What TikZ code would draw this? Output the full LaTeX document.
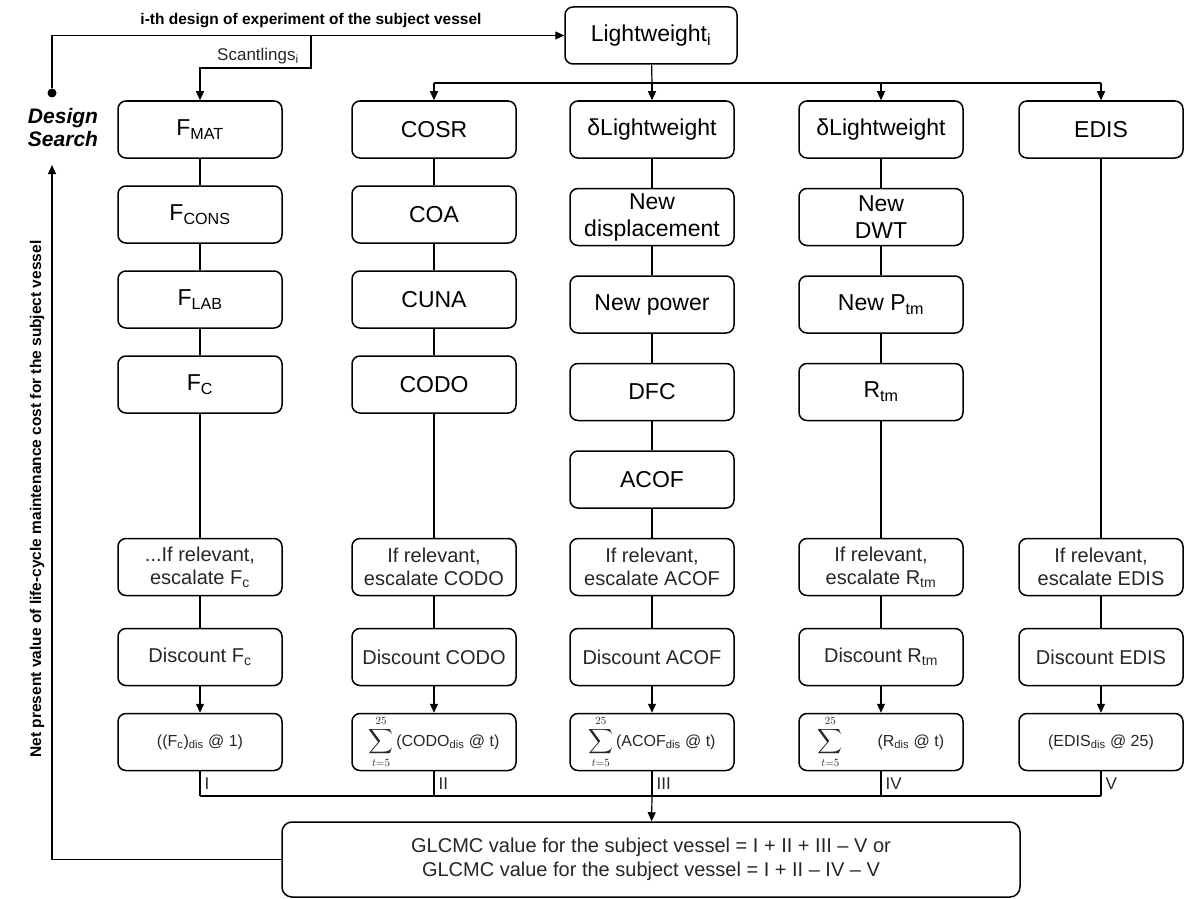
\documentclass[tikz,border=0pt]{standalone}
\usepackage{amsmath}
\usepackage{exscale}
\usepackage{fontspec}
\setmainfont{Liberation Sans}
\usepackage{tikz}
\usetikzlibrary{shapes,arrows.meta,positioning,calc}
\newcommand{\subtx}[1]{\textsubscript{#1}}
\newcommand{\sumlim}{$\displaystyle\sum_{t=5}^{25}$\,}

\begin{document}
\begin{tikzpicture}[x=1pt, y=-1pt,
        node distance=87.5pt,
        block/.style={rectangle, draw, line width=1.5pt, rounded corners=8pt, minimum width=164pt, minimum height=57pt, align=center, inner sep=2pt, font=\fontsize{23}{27}\selectfont},
        lowblock/.style={block, font=\fontsize{20}{23}\selectfont, text=black!85},
        sumblock/.style={block, font=\fontsize{16}{18}\selectfont, text=black!85},
        glcmcblock/.style={block, minimum width=738pt, minimum height=75pt, font=\fontsize{20}{24}\selectfont, text=black!85, rounded corners=10pt},
        link/.style={line width=1.2pt},
        arrow/.style={-{Triangle[length=9pt,width=8pt]}, line width=1.2pt},
        dot/.style={circle, fill, inner sep=0pt, minimum size=9pt},
        roman/.style={font=\fontsize{17}{17}\selectfont, text=black!85, inner sep=4pt},
        sidetext/.style={font=\bfseries\fontsize{15.5}{17}\selectfont}
    ]
    \useasboundingbox (0,0) rectangle (1184,899);

    % design of experiment and lightweight
    \node[block, minimum width=172pt] (light) at (651,35.5) {Lightweight\subtx{i}};
    \node[dot] (ds) at (52,93) {};
    \node[align=center, font=\bfseries\itshape\fontsize{21}{23}\selectfont] (search) at (63,127) {Design\\Search};
    \node[sidetext] (doe) at (311,21) {i-th design of experiment of the subject vessel};
    \node[font=\fontsize{17}{17}\selectfont, text=black!85] (scl) at (258,56) {Scantlings\subtx{i}};
    \coordinate (scant) at (311,36);
    \coordinate (scantbend) at (311,68);
    \coordinate (split) at (652,83);
    \coordinate (bus) at (652,796);
    \coordinate (fbtip) at (52,165);

    % column I
    \node[block] (fmat) at (200,129.5) {F\subtx{MAT}};
    \node[block, below of=fmat, node distance=85pt] (fcons) {F\subtx{CONS}};
    \node[block, below of=fcons, node distance=85pt] (flab) {F\subtx{LAB}};
    \node[block, below of=flab, node distance=85pt] (fc) {F\subtx{C}};
    \node[lowblock, below of=fc, node distance=182.5pt] (esc1) {...If relevant,\\escalate F\subtx{c}};
    \node[lowblock, below of=esc1, node distance=90pt] (disc1) {Discount F\subtx{c}};
    \node[sumblock, below of=disc1, node distance=85pt] (sum1) {((F\subtx{c})\subtx{dis} @ 1)};

    % column II
    \node[block] (cosr) at (434,129.5) {COSR};
    \node[block, below of=cosr, node distance=85pt] (coa) {COA};
    \node[block, below of=coa, node distance=85pt] (cuna) {CUNA};
    \node[block, below of=cuna, node distance=85pt] (codo) {CODO};
    \node[lowblock, below of=codo, node distance=182.5pt] (esc2) {If relevant,\\escalate CODO};
    \node[lowblock, below of=esc2, node distance=90pt] (disc2) {Discount CODO};
    \node[sumblock, below of=disc2, node distance=85pt] (sum2) {\sumlim(CODO\subtx{dis} @ t)};

    % column III
    \node[block] (dl3) at (652,129.5) {δLightweight};
    \node[block, below of=dl3] (ndisp) {New\\displacement};
    \node[block, below of=ndisp] (npow) {New power};
    \node[block, below of=npow] (dfc) {DFC};
    \node[block, below of=dfc] (acof) {ACOF};
    \node[lowblock, below of=acof] (esc3) {If relevant,\\escalate ACOF};
    \node[lowblock, below of=esc3, node distance=90pt] (disc3) {Discount ACOF};
    \node[sumblock, below of=disc3, node distance=85pt] (sum3) {\sumlim(ACOF\subtx{dis} @ t)};

    % column IV
    \node[block] (dl4) at (881,129.5) {δLightweight};
    \node[block, below of=dl4] (ndwt) {New\\DWT};
    \node[block, below of=ndwt] (nptm) {New P\subtx{tm}};
    \node[block, below of=nptm] (rtm) {R\subtx{tm}};
    \node[lowblock, below of=rtm, node distance=175pt] (esc4) {If relevant,\\escalate R\subtx{tm}};
    \node[lowblock, below of=esc4, node distance=90pt] (disc4) {Discount R\subtx{tm}};
    \node[sumblock, below of=disc4, node distance=85pt] (sum4) {\sumlim\qquad (R\subtx{dis} @ t)};

    % column V
    \node[block] (edis) at (1101,129.5) {EDIS};
    \node[lowblock, below of=edis, node distance=437.5pt] (esc5) {If relevant,\\escalate EDIS};
    \node[lowblock, below of=esc5, node distance=90pt] (disc5) {Discount EDIS};
    \node[sumblock, below of=disc5, node distance=85pt] (sum5) {(EDIS\subtx{dis} @ 25)};

    % total
    \node[glcmcblock] (glcmc) at (651,859.5) {GLCMC value for the subject vessel = I + II + III – V or\\GLCMC value for the subject vessel = I + II – IV – V};

    % top connectors
    \draw[arrow] (ds) |- (light);
    \draw[arrow] (scant) -- (scantbend) -| (fmat);
    \draw[link] (light) -- (split);
    \draw[link] (cosr |- split) -- (edis |- split);
    \foreach \n in {cosr,dl3,dl4,edis}
        \draw[arrow] (\n |- split) -- (\n);

    % column connectors
    \foreach \a/\b in {fmat/fcons, fcons/flab, flab/fc, fc/esc1, esc1/disc1,
                       cosr/coa, coa/cuna, cuna/codo, codo/esc2, esc2/disc2,
                       dl3/ndisp, ndisp/npow, npow/dfc, dfc/acof, acof/esc3, esc3/disc3,
                       dl4/ndwt, ndwt/nptm, nptm/rtm, rtm/esc4, esc4/disc4,
                       edis/esc5, esc5/disc5}
        \draw[link] (\a) -- (\b);
    \foreach \a/\b in {disc1/sum1, disc2/sum2, disc3/sum3, disc4/sum4, disc5/sum5}
        \draw[arrow] (\a) -- (\b);

    % collecting bus
    \foreach \s/\r in {sum1/I, sum2/II, sum3/III, sum4/IV, sum5/V}
        \draw[link] (\s) -- (\s |- bus) node[midway, right, roman] {\r};
    \draw[link] (sum1 |- bus) -- (sum5 |- bus);
    \draw[arrow] (bus) -- (glcmc);

    % feedback to design search
    \draw[arrow] (glcmc) -| (fbtip);
    \node[sidetext, rotate=90] (npv) at (37,499) {Net present value of life-cycle maintenance cost for the subject vessel};

\end{tikzpicture}
\end{document}
